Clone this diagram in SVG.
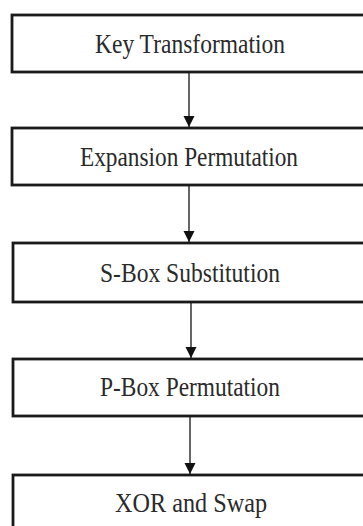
<svg xmlns="http://www.w3.org/2000/svg" width="363" height="526" viewBox="0 0 363 526">
<style>
.box{fill:#fff;stroke:#1a1a1a;stroke-width:2.8}
.lbl{font-family:"Liberation Serif","Times New Roman",serif;font-size:27px;fill:#2a2a2a;text-anchor:middle}
.conn{stroke:#333;stroke-width:1.5;fill:none}
</style>
<defs>
<marker id="ah" viewBox="0 0 10 10" refX="10" refY="5" markerWidth="11" markerHeight="12" markerUnits="userSpaceOnUse" orient="auto">
<path d="M0,0 L10,5 L0,10 z" fill="#111"/>
</marker>
</defs>
<rect width="363" height="526" fill="#fff"/>
<g id="connectors">
<line class="conn" x1="189" y1="72" x2="189" y2="127" marker-end="url(#ah)"/>
<line class="conn" x1="189" y1="186" x2="189" y2="242" marker-end="url(#ah)"/>
<line class="conn" x1="191" y1="302" x2="191" y2="358" marker-end="url(#ah)"/>
<line class="conn" x1="190" y1="417" x2="190" y2="474" marker-end="url(#ah)"/>
</g>
<g id="n1">
<rect class="box" x="12" y="15" width="360" height="57"/>
<text class="lbl" x="190" y="53" textLength="190" lengthAdjust="spacingAndGlyphs">Key Transformation</text>
</g>
<g id="n2">
<rect class="box" x="12" y="128" width="360" height="57"/>
<text class="lbl" x="189" y="166" textLength="218" lengthAdjust="spacingAndGlyphs">Expansion Permutation</text>
</g>
<g id="n3">
<rect class="box" x="13" y="243" width="360" height="59"/>
<text class="lbl" x="190" y="282" textLength="180" lengthAdjust="spacingAndGlyphs">S-Box Substitution</text>
</g>
<g id="n4">
<rect class="box" x="13" y="359" width="360" height="57"/>
<text class="lbl" x="190" y="396" textLength="180" lengthAdjust="spacingAndGlyphs">P-Box Permutation</text>
</g>
<g id="n5">
<rect class="box" x="13" y="475" width="360" height="60"/>
<text class="lbl" x="191" y="512" textLength="152" lengthAdjust="spacingAndGlyphs">XOR and Swap</text>
</g>
</svg>
